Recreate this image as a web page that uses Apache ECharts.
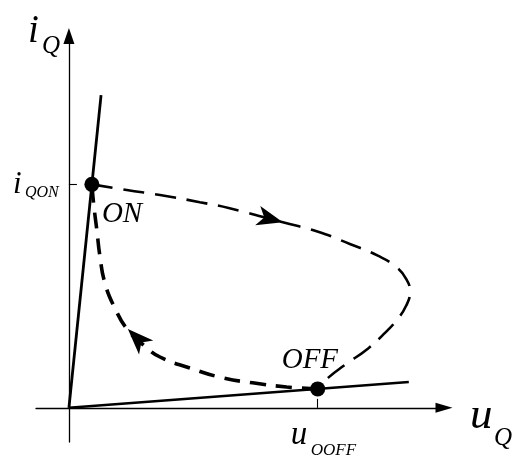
<!DOCTYPE html>
<html>
<head>
<meta charset="utf-8">
<script src="https://cdn.jsdelivr.net/npm/echarts@6/dist/echarts.min.js"></script>
<style>
  html, body { margin: 0; padding: 0; background: #ffffff; }
  #chart { width: 514px; height: 455px; }
</style>
</head>
<body>
<div id="chart"></div>
<script>
// Switching trajectory of a power switch in the (u_Q, i_Q) plane.

// Static characteristics: conducting (steep) and blocking (flat) lines
const onStateLine = [[0, 0], [0.84, 8.24]];
const offStateLine = [[0, 0], [8.88, 0.68]];

// Operating points
const iQON = 5.89;
const uQOFF = 6.50;
const onPoint = [0.60, iQON];
const offPoint = [uQOFF, 0.50];

// Turn-off branch: from ON to OFF
const turnOffPath = [
  [0.60, 5.89], [1.51, 5.74], [2.38, 5.61], [3.42, 5.42], [4.20, 5.26],
  [5.59, 4.89], [6.51, 4.64], [7.34, 4.32], [8.07, 4.01], [8.54, 3.72],
  [8.81, 3.40], [8.91, 3.06], [8.81, 2.69], [8.57, 2.32], [8.23, 1.95],
  [7.81, 1.56], [7.21, 1.13], [6.77, 0.79], [6.50, 0.50]
];

// Turn-on branch: from OFF back to ON
const turnOnPath = [
  [6.50, 0.50], [5.69, 0.55], [4.80, 0.66], [4.02, 0.79], [3.16, 1.05],
  [2.38, 1.34], [1.98, 1.63], [1.54, 2.05], [1.20, 2.63], [0.94, 3.29],
  [0.81, 4.00], [0.73, 4.68], [0.65, 5.34], [0.60, 5.89]
];

// Direction arrows along the loop: [tipU, tipI, tailU, tailI]
const directionArrows = [
  [5.59, 4.89, 4.20, 5.26],
  [1.54, 2.08, 2.04, 1.57]
];

const FONT = 'Liberation Serif';

const chart = echarts.init(document.getElementById('chart'), null, { renderer: 'canvas' });

const axisLineStyle = { color: '#000', width: 1.3 };

chart.setOption({
  animation: false,
  backgroundColor: '#ffffff',
  grid: { left: 36, top: 36, width: 408, height: 406, outerBoundsMode: 'none', containLabel: false },
  xAxis: {
    type: 'value', min: -0.86, max: 9.8,
    axisLine: { show: true, onZero: true, lineStyle: axisLineStyle,
      symbol: ['none', 'triangle'], symbolSize: [10, 17] },
    axisTick: { show: true, inside: true, length: 9, customValues: [uQOFF],
      lineStyle: { color: '#000', width: 1.1 } },
    axisLabel: { show: false },
    splitLine: { show: false }
  },
  yAxis: {
    type: 'value', min: -0.9, max: 9.8,
    axisLine: { show: true, onZero: true, lineStyle: axisLineStyle,
      symbol: ['none', 'triangle'], symbolSize: [11, 16] },
    axisTick: { show: true, inside: true, length: 8, customValues: [iQON],
      lineStyle: { color: '#000', width: 1.1 } },
    axisLabel: { show: false },
    splitLine: { show: false }
  },
  series: [
    {
      type: 'line', data: onStateLine, showSymbol: false, silent: true,
      lineStyle: { color: '#000', width: 2.8 }, z: 3
    },
    {
      type: 'line', data: offStateLine, showSymbol: false, silent: true,
      lineStyle: { color: '#000', width: 2.5 }, z: 3
    },
    {
      type: 'line', data: turnOffPath, showSymbol: false, silent: true, smooth: 0.5,
      lineStyle: { color: '#000', width: 2.6, type: [21, 11], cap: 'butt' }, z: 2
    },
    {
      type: 'line', data: turnOnPath, showSymbol: false, silent: true, smooth: 0.5,
      lineStyle: { color: '#000', width: 3.6, type: [16, 10], cap: 'butt' }, z: 2
    },
    {
      type: 'custom', data: directionArrows, silent: true, z: 4,
      dimensions: ['tipU', 'tipI', 'tailU', 'tailI'],
      encode: { x: [0, 2], y: [1, 3] },
      renderItem: function (params, api) {
        const tip = api.coord([api.value(0), api.value(1)]);
        const tail = api.coord([api.value(2), api.value(3)]);
        let dx = tip[0] - tail[0], dy = tip[1] - tail[1];
        const len = Math.hypot(dx, dy);
        dx /= len; dy /= len;
        const L = 26, W = 10, N = 0.74 * L;
        const nx = -dy, ny = dx;
        const bx = tip[0] - dx * L, by = tip[1] - dy * L;
        return {
          type: 'polygon',
          shape: { points: [
            tip,
            [bx + nx * W, by + ny * W],
            [tip[0] - dx * N, tip[1] - dy * N],
            [bx - nx * W, by - ny * W]
          ] },
          style: { fill: '#000' }
        };
      }
    },
    {
      type: 'scatter', data: [onPoint, offPoint], symbolSize: 15, silent: true,
      itemStyle: { color: '#000', opacity: 1 }, z: 5
    }
  ]
});

// Italic serif labels placed relative to the chart's scale
function txt(str, x, baseline, size) {
  return {
    type: 'text', x: x, y: baseline - 0.34 * size, silent: true,
    style: { text: str, fill: '#000', fontFamily: FONT, fontStyle: 'italic',
      fontSize: size, fontWeight: 'normal', align: 'left', verticalAlign: 'middle' }
  };
}

const pOn = chart.convertToPixel({ gridIndex: 0 }, onPoint);
const pOff = chart.convertToPixel({ gridIndex: 0 }, offPoint);
const pTickI = chart.convertToPixel({ gridIndex: 0 }, [0, iQON]);
const pTickU = chart.convertToPixel({ gridIndex: 0 }, [uQOFF, 0]);
const pYEnd = chart.convertToPixel({ gridIndex: 0 }, [0, 9.8]);
const pXEnd = chart.convertToPixel({ gridIndex: 0 }, [9.8, 0]);

chart.setOption({
  graphic: [
    // axis names
    txt('i', pYEnd[0] - 41, pYEnd[1] + 9, 39),
    txt('Q', pYEnd[0] - 27, pYEnd[1] + 19, 25),
    txt('u', pXEnd[0] + 26, pXEnd[1] + 24, 45),
    txt('Q', pXEnd[0] + 50, pXEnd[1] + 39, 25),
    // tick labels
    txt('i', pTickI[0] - 56, pTickI[1] + 11, 31),
    txt('QON', pTickI[0] - 44, pTickI[1] + 14, 16),
    txt('u', pTickU[0] - 27, pTickU[1] + 39, 33),
    txt('QOFF', pTickU[0] - 7, pTickU[1] + 48, 17),
    // operating-point labels
    txt('ON', pOn[0] + 10, pOn[1] + 40, 29),
    txt('OFF', pOff[0] - 36, pOff[1] - 19, 29)
  ]
});
</script>
</body>
</html>
